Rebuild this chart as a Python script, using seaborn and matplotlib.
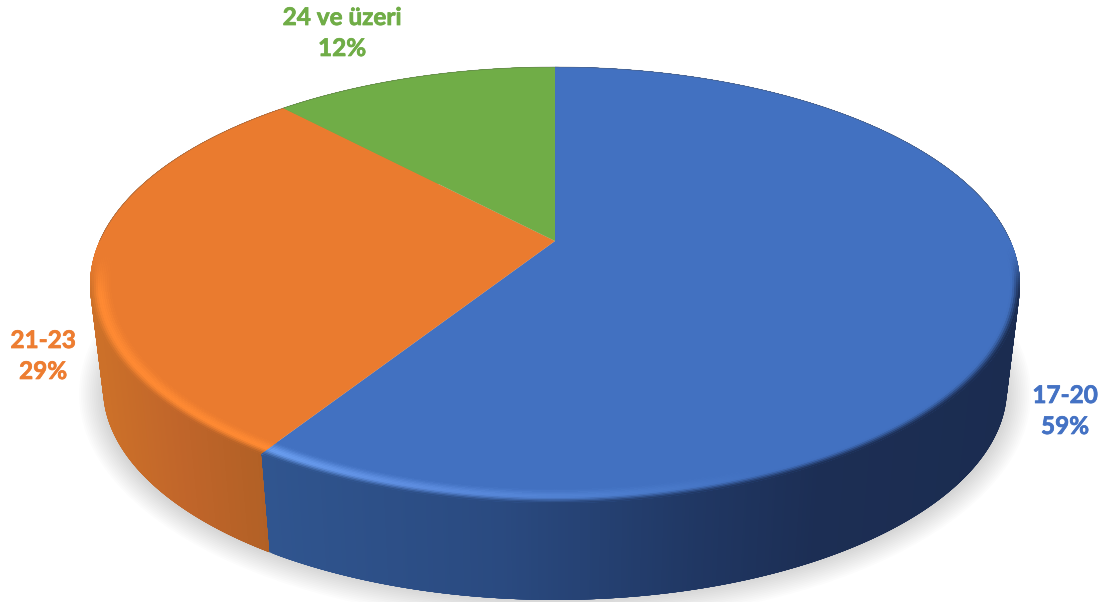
import numpy as np
import matplotlib
matplotlib.use("Agg")
import matplotlib.pyplot as plt
import matplotlib.patheffects as pe
from matplotlib.collections import PolyCollection
from matplotlib.colors import to_rgb
from matplotlib.patches import Ellipse
import seaborn as sns

# chart values
labels = ["17-20", "21-23", "24 ve üzeri"]
shares = [59, 29, 12]
colors = ["#4472C4", "#ED7D31", "#70AD47"]
top_colors = ["#4271C1", "#EA7B2F", "#70AD47"]

sns.set_theme(style="white")
plt.rcParams["font.family"] = ["Lato", "DejaVu Sans"]
palette = sns.color_palette(colors)
top_palette = sns.color_palette(top_colors)

W, H = 1111, 602
fig = plt.figure(figsize=(W / 100, H / 100), dpi=100, facecolor="white")
ax = fig.add_axes([0, 0, 1, 1])

# let pie work out the slice angles, then redraw them in perspective
wedges, _ = ax.pie(shares, startangle=90, counterclock=False, colors=palette)
angles = [(w.theta1, w.theta2) for w in wedges]
for w in wedges:
    w.remove()
ax.set_aspect("auto")
ax.set_xlim(0, W)
ax.set_ylim(H, 0)
ax.axis("off")

# perspective of the pie disc, in image pixels
CX, CY = 555, 241
PERSP = 0.2018
KX, KY = 455.4, -160.5
DROP_S = 0.972
DROP_Y = 388
TOP_MID = 285


def project(r, theta):
    u = r * np.cos(np.radians(theta))
    v = r * np.sin(np.radians(theta))
    w = 1 + PERSP * v
    return CX + KX * u / w, (KY * v + CY) / w


def project_low(theta):
    x, y = project(1, theta)
    return CX + (x - CX) * DROP_S, DROP_Y + (y - TOP_MID) * DROP_S


def ramp(x, xs, hexes):
    rgb = np.array([to_rgb(c) for c in hexes])
    return np.column_stack([np.interp(x, xs, rgb[:, i]) for i in range(3)])


def smooth(t):
    t = np.clip(t, 0, 1)
    return t * t * (3 - 2 * t)


side_ramps = [
    ([265, 500, 700, 820, 1020], ["#30558F", "#2A4A80", "#203763", "#1C2E54", "#1B2C50"]),
    ([100, 180, 265], ["#CC7029", "#C0652A", "#B16025"]),
    ([0, 1], ["#70AD47", "#70AD47"]),
]
light_ramps = [
    ([265, 400, 600, 760, 1020], ["#6A9EF0", "#5F8FE2", "#4E7FD0", "#4271C1", "#4271C1"]),
    ([90, 265], ["#FF8A33", "#FF8A33"]),
    ([0, 1], ["#70AD47", "#70AD47"]),
]

# soft shadow under the pie
for grow in np.linspace(24, 0, 14):
    ax.add_patch(Ellipse((CX, DROP_Y + 6), 2 * (452 + grow), 2 * (206 + grow),
                         fc="black", ec="none", alpha=0.013, zorder=1))

# side wall, quads overlap the next ones so no seams show
for i, (t1, t2) in enumerate(angles):
    th = np.arange(t1, t2 + 0.25, 0.25)
    th[-1] = t2
    xa, ya = project(1, th)
    xb, yb = project_low(th)
    quads, cols = [], []
    c = ramp(xa, *side_ramps[i])
    for k in range(len(th) - 1):
        e = min(k + 6, len(th) - 1)
        quads.append([(xa[k], ya[k]), (xa[e], ya[e]), (xb[e], yb[e]), (xb[k], yb[k])])
        cols.append(c[k])
    ax.add_collection(PolyCollection(quads, facecolors=cols, edgecolors="none", zorder=2))

# top face
for i, (t1, t2) in enumerate(angles):
    th = np.linspace(t1, t2, 400)
    x, y = project(1, th)
    x0, y0 = project(0, 0.0)
    ax.fill(np.r_[x0, x], np.r_[y0, y], color=top_palette[i], lw=0, zorder=3)

# bevel along the front rim, outer ring first
radii = np.linspace(1, 0.952, 13)
for i, (t1, t2) in enumerate(angles):
    th = np.arange(t1, t2 + 0.5, 0.5)
    th[-1] = t2
    base = np.array(top_palette[i])
    for j in range(len(radii) - 1):
        xa, ya = project(radii[j], th)
        xb, yb = project(radii[j + 1], th)
        t = (j + 0.5) / (len(radii) - 1)
        front = smooth((ya - 250) / 50)[:, None]
        side = ramp(xa, *side_ramps[i])
        light = ramp(xa, *light_ramps[i])
        if t < 0.42:
            c = side + (light - side) * smooth(t / 0.42)
        else:
            c = light + (base - light) * smooth((t - 0.42) / 0.58)
        c = base + (c - base) * front
        quads, cols = [], []
        for k in range(len(th) - 1):
            e = min(k + 3, len(th) - 1)
            quads.append([(xa[k], ya[k]), (xa[e], ya[e]), (xb[e], yb[e]), (xb[k], yb[k])])
            cols.append(c[k])
        ax.add_collection(PolyCollection(quads, facecolors=cols, edgecolors="none", zorder=4 + j * 0.01))

# faint dark line on the back edge
th = np.linspace(0, 180, 300)
x, y = project(1, th)
ax.plot(x, y, color="#555555", lw=0.5, alpha=0.45, zorder=5)

# labels
label_xy = [(1065, 411), (43, 356), (342, 33)]
for name, share, col, (lx, ly) in zip(labels, shares, palette, label_xy):
    ax.text(lx, ly, f"{name}\n{share}%", color=col, fontsize=17.5, fontweight="bold",
            ha="center", va="center", linespacing=1.42, zorder=6,
            path_effects=[pe.withStroke(linewidth=0.5, foreground=col)])

fig.savefig("out.png", dpi=100, facecolor="white")
